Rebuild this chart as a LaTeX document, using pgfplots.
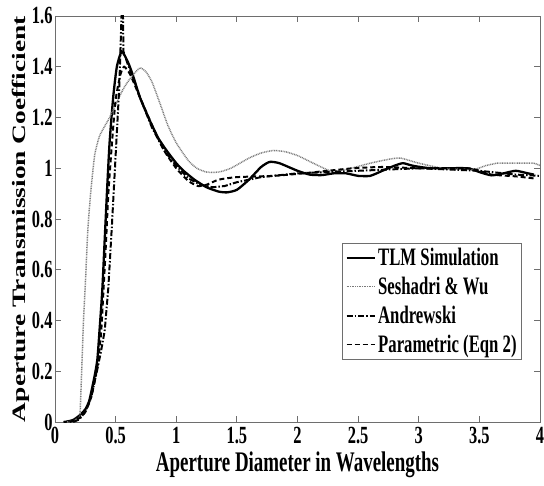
\documentclass[border=0pt]{standalone}
\usepackage{fontspec}
\setmainfont{Liberation Serif}
\usepackage{graphicx}
\usepackage{pgfplots}
\pgfplotsset{compat=1.18}
\newcommand\st[1]{\scalebox{1}[1.5]{#1}}
\definecolor{boxgray}{HTML}{6E6E6E}
\definecolor{dotgray}{HTML}{7A7A7A}

\begin{document}
\begin{tikzpicture}
\begin{axis}[
  name=ax,
  scale only axis,
  width=485bp, height=406bp,
  xmin=0, xmax=4, ymin=0, ymax=1.6,
  xtick={0,0.5,1,1.5,2,2.5,3,3.5,4},
  xticklabels={\st{0},\st{0.5},\st{1},\st{1.5},\st{2},\st{2.5},\st{3},\st{3.5},\st{4}},
  ytick={0,0.2,0.4,0.6,0.8,1,1.2,1.4,1.6},
  yticklabels={\st{0},\st{0.2},\st{0.4},\st{0.6},\st{0.8},\st{1},\st{1.2},\st{1.4},\st{1.6}},
  tick align=inside,
  major tick length=6bp,
  tick style={boxgray, line width=0.8pt},
  axis line style={boxgray, line width=0.8pt},
  tick label style={font=\fontsize{16.5}{18}\selectfont\bfseries},
  xticklabel style={yshift=-2bp},
  yticklabel style={xshift=1bp},
  label style={font=\fontsize{19}{22}\selectfont\bfseries},
  xlabel={\st{Aperture Diameter in Wavelengths}},
  ylabel={\scalebox{1.45}[1]{Aperture Transmission Coefficient}},
  xlabel style={yshift=-1bp},
  ylabel style={yshift=-4bp},
  legend style={at={(rel axis cs:0.963,0.441)}, anchor=north east,
    draw=boxgray, line width=0.8pt, font=\fontsize{16.8}{19}\selectfont\bfseries,
    cells={anchor=west}, row sep=6bp, inner sep=3bp},
  legend image code/.code={\draw[#1] (0cm,0cm) -- (1.0cm,0cm);},
]
% TLM Simulation
\addplot[black, line width=2.3pt, smooth, tension=0.35] coordinates {
 (0.07,0) (0.10,0.002) (0.15,0.008) (0.20,0.025) (0.25,0.05) (0.28,0.08)
 (0.30,0.12) (0.33,0.19) (0.35,0.25) (0.37,0.38) (0.39,0.52) (0.41,0.72)
 (0.43,0.92) (0.45,1.10) (0.48,1.28) (0.51,1.40) (0.55,1.46) (0.60,1.42)
 (0.64,1.37) (0.70,1.28) (0.78,1.19) (0.85,1.12) (0.92,1.07) (1.0,1.02)
 (1.06,0.99) (1.15,0.955) (1.25,0.925) (1.35,0.908) (1.42,0.905) (1.5,0.915)
 (1.6,0.955) (1.7,1.005) (1.77,1.025) (1.85,1.02) (2.0,0.99) (2.1,0.975)
 (2.2,0.973) (2.3,0.98) (2.4,0.98) (2.5,0.97) (2.6,0.97) (2.7,0.99)
 (2.8,1.01) (2.87,1.02) (2.95,1.01) (3.1,1.0) (3.4,1.0) (3.5,0.985)
 (3.6,0.972) (3.7,0.98) (3.8,0.99) (3.9,0.98) (3.95,0.975)
};
\addlegendentry{\st{TLM Simulation}}
% Seshadri & Wu
\addplot[dotgray, line width=1.5pt, dash pattern=on 0.9pt off 0.8pt, smooth, tension=0.35] coordinates {
 (0.10,0) (0.15,0.005) (0.19,0.015) (0.206,0.03) (0.22,0.2) (0.235,0.4)
 (0.25,0.54) (0.27,0.75) (0.29,0.88) (0.31,0.98) (0.33,1.06) (0.37,1.13)
 (0.45,1.20) (0.56,1.31) (0.63,1.36) (0.70,1.395) (0.75,1.38) (0.80,1.34)
 (0.87,1.25) (0.93,1.17) (1.0,1.10) (1.1,1.03) (1.17,1.0) (1.25,0.985)
 (1.35,0.985) (1.45,1.0) (1.6,1.04) (1.7,1.06) (1.8,1.07) (1.9,1.065)
 (2.0,1.05) (2.13,1.02) (2.27,0.99) (2.4,0.995) (2.6,1.02) (2.75,1.035)
 (2.85,1.04) (3.0,1.02) (3.2,1.0) (3.45,0.995) (3.55,1.01) (3.65,1.02)
 (3.8,1.02) (3.95,1.02) (4.0,1.01)
};
\addlegendentry{\st{Seshadri \& Wu}}
% Andrewski
\addplot[black, line width=2pt, dash pattern=on 6pt off 2pt on 1.5pt off 2pt] coordinates {
 (0.15,0) (0.20,0.01) (0.25,0.04) (0.30,0.10) (0.35,0.21) (0.38,0.28)
 (0.41,0.36) (0.44,0.53) (0.47,0.78) (0.50,1.05) (0.53,1.32) (0.55,1.62)
 (0.56,1.62) (0.565,1.46) (0.60,1.41) (0.65,1.35) (0.70,1.28) (0.80,1.16)
 (0.90,1.07) (1.0,1.01) (1.1,0.96) (1.2,0.935) (1.3,0.925) (1.4,0.93)
 (1.5,0.945) (1.7,0.965) (2.0,0.98) (2.5,0.99) (3.0,1.0) (3.5,0.99)
 (3.8,0.975) (4.0,0.97)
};
\addlegendentry{\st{Andrewski}}
% Parametric (Eqn 2)
\addplot[black, line width=2pt, dash pattern=on 5pt off 3pt, smooth, tension=0.35] coordinates {
 (0.12,0) (0.20,0.015) (0.25,0.04) (0.30,0.10) (0.35,0.22) (0.38,0.35)
 (0.40,0.52) (0.42,0.70) (0.44,0.90) (0.47,1.10) (0.50,1.27) (0.54,1.37)
 (0.57,1.40) (0.62,1.37) (0.70,1.28) (0.80,1.17) (0.90,1.07) (1.0,1.0)
 (1.1,0.95) (1.18,0.93) (1.25,0.935) (1.35,0.955) (1.5,0.965) (1.8,0.97)
 (2.05,0.98) (2.25,0.99) (2.46,1.0) (2.7,1.005) (3.0,1.0) (3.4,1.0)
 (3.5,0.99) (3.6,0.975) (3.8,0.968) (3.95,0.96)
};
\addlegendentry{\st{Parametric (Eqn 2)}}
\end{axis}
\pgfresetboundingbox
\path[use as bounding box] (ax.south west) ++(-55bp,-64bp) rectangle ++(544bp,486bp);
\end{tikzpicture}
\end{document}
